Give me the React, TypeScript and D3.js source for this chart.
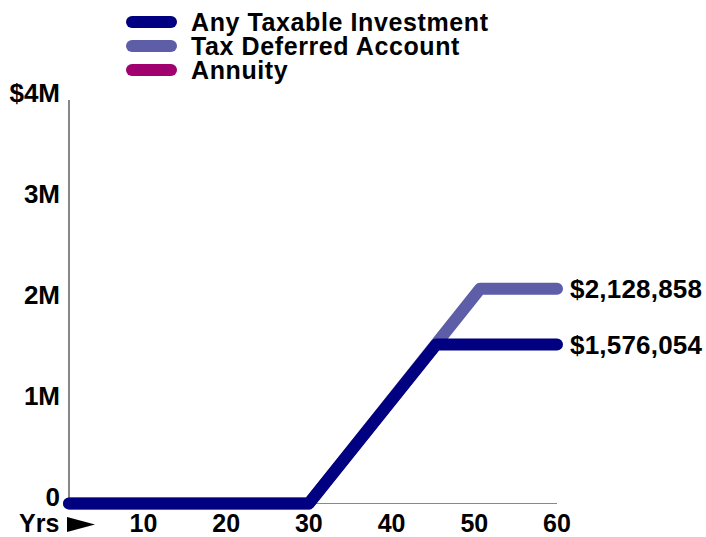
import React from "react";
import * as d3 from "d3";

const seriesNames = ["Any Taxable Investment", "Tax Deferred Account", "Annuity"];
const seriesColors = ["#000080", "#5d5da8", "#a1006f"];
const taxableYears = [1, 30, 45.4, 60];
const taxableValues = [0, 0, 1576054, 1576054];
const deferredYears = [1, 30, 50.7, 60];
const deferredValues = [0, 0, 2128858, 2128858];
const annuityYears: number[] = [];
const annuityValues: number[] = [];
const xTicks = [10, 20, 30, 40, 50, 60];
const yTicks = [0, 1000000, 2000000, 3000000, 4000000];
const yTickLabels = ["0", "1M", "2M", "3M", "$4M"];
const endLabels = ["$1,576,054", "$2,128,858"];

const W = 706;
const H = 537;
const FONT = "'Liberation Sans', Arial, Helvetica, sans-serif";

export default function App() {
  const x = d3.scaleLinear().domain([1, 60]).range([69, 557]);
  const y = d3.scaleLinear().domain([0, 4000000]).range([503.5, 100]);
  const line = d3
    .line<[number, number]>()
    .x((d) => x(d[0]))
    .y((d) => y(d[1]));

  const series = [
    { years: annuityYears, values: annuityValues, color: seriesColors[2] },
    { years: deferredYears, values: deferredValues, color: seriesColors[1] },
    { years: taxableYears, values: taxableValues, color: seriesColors[0] },
  ];

  return (
    <svg
      width={W}
      height={H}
      style={{ position: "absolute", left: 0, top: 0, background: "#fff" }}
      fontFamily={FONT}
      fontWeight="bold"
    >
      {/* legend */}
      {seriesNames.map((name, i) => (
        <g key={name}>
          <line
            x1={132}
            x2={171}
            y1={22 + i * 24}
            y2={22 + i * 24}
            stroke={seriesColors[i]}
            strokeWidth={12}
            strokeLinecap="round"
          />
          <text x={191} y={31 + i * 24} fontSize={25} letterSpacing={0.6} fill="#000">
            {name}
          </text>
        </g>
      ))}

      {/* axes */}
      <line x1={69} x2={69} y1={y(4000000)} y2={y(0)} stroke="#111" strokeWidth={1} />
      <line x1={69} x2={x(60)} y1={y(0)} y2={y(0)} stroke="#888" strokeWidth={1.2} />

      {yTicks.map((t, i) => (
        <text key={t} x={60} y={y(t) + 2} fontSize={26} textAnchor="end" fill="#000">
          {yTickLabels[i]}
        </text>
      ))}

      {xTicks.map((t) => (
        <text key={t} x={x(t)} y={532} fontSize={25} textAnchor="middle" fill="#000">
          {t}
        </text>
      ))}
      <text x={19} y={532} fontSize={25} fill="#000">
        Yrs
      </text>
      <path d="M67,517 L95,524.5 L67,532 Z" fill="#000" />

      {/* lines */}
      {series.map((s, i) =>
        s.years.length ? (
          <path
            key={i}
            d={line(s.years.map((yr, j) => [yr, s.values[j]] as [number, number])) || ""}
            fill="none"
            stroke={s.color}
            strokeWidth={12}
            strokeLinecap="round"
            strokeLinejoin="round"
          />
        ) : null
      )}

      {/* end labels */}
      <text x={570} y={y(taxableValues[3]) + 9} fontSize={26} letterSpacing={0.2} fill="#000">
        {endLabels[0]}
      </text>
      <text x={570} y={y(deferredValues[3]) + 9} fontSize={26} letterSpacing={0.2} fill="#000">
        {endLabels[1]}
      </text>
    </svg>
  );
}
